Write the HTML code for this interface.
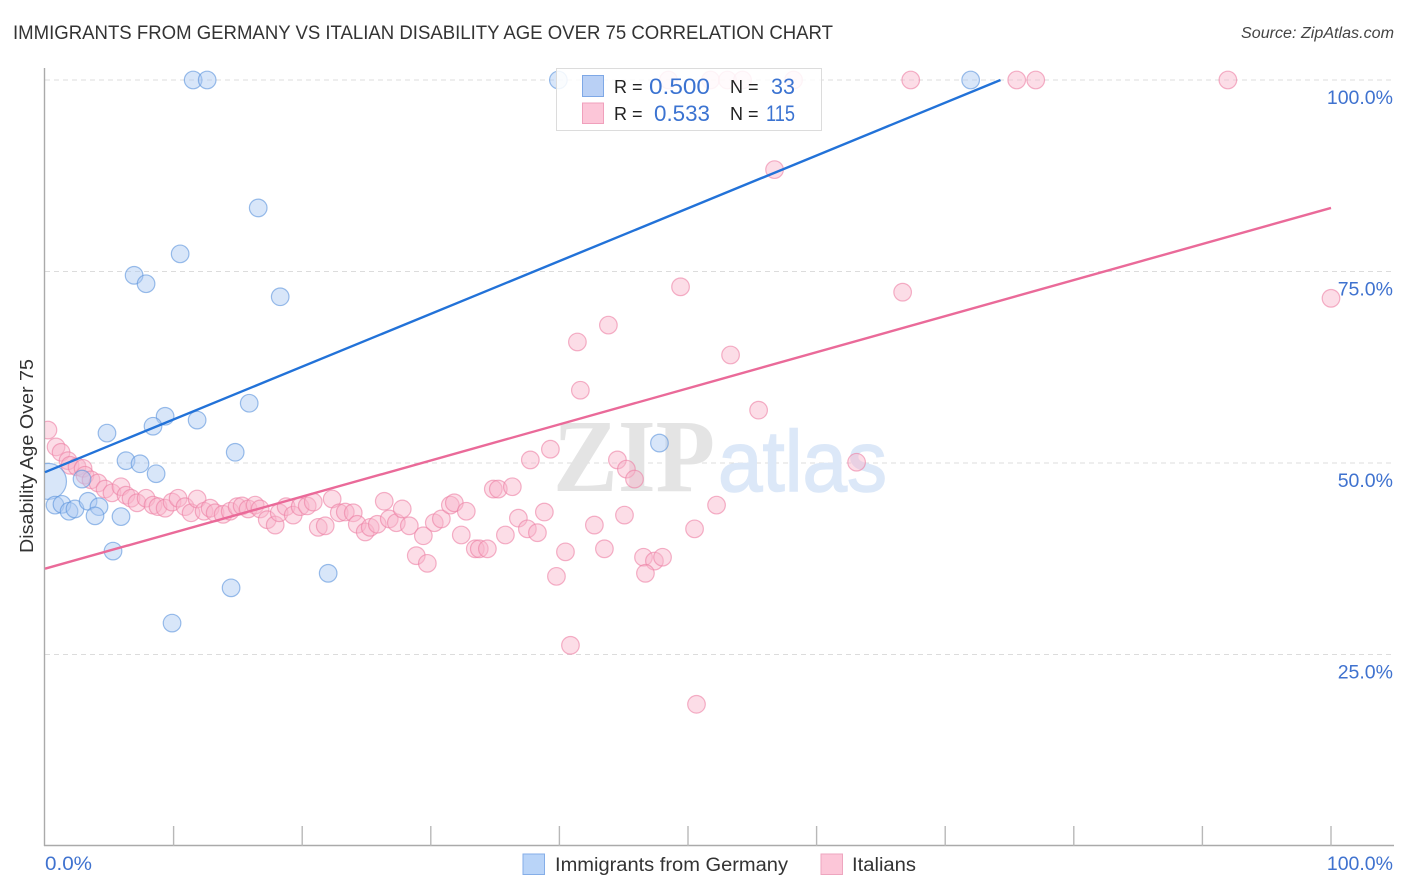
<!DOCTYPE html>
<html>
<head>
<meta charset="utf-8">
<title>Immigrants from Germany vs Italian Disability Age Over 75 Correlation Chart</title>
<style>
html,body{margin:0;padding:0;background:#fff;width:1406px;height:892px;overflow:hidden}
svg{display:block;font-family:"Liberation Sans",sans-serif}
</style>
</head>
<body>
<svg id="chart" width="1406" height="892" viewBox="0 0 1406 892">
  <defs>
    <clipPath id="plot-clip"><rect x="45" y="60" width="1360" height="786"/></clipPath>
  </defs>
  <text x="13" y="39" font-size="19" fill="#333" textLength="820" lengthAdjust="spacingAndGlyphs">IMMIGRANTS FROM GERMANY VS ITALIAN DISABILITY AGE OVER 75 CORRELATION CHART</text>
  <text x="1394" y="38" font-size="15.5" font-style="italic" fill="#444" text-anchor="end" textLength="153" lengthAdjust="spacingAndGlyphs">Source: ZipAtlas.com</text>
  <g id="grid"></g>
  <g>
    <text x="553" y="491" font-size="104" font-weight="bold" font-family="'Liberation Serif',serif" fill="#e4e4e4" textLength="162" lengthAdjust="spacingAndGlyphs">ZIP</text>
    <text x="718" y="491" font-size="86" fill="#dce8f8" stroke="#dce8f8" stroke-width="1.5" textLength="169" lengthAdjust="spacingAndGlyphs">atlas</text>
  </g>
  <g id="axes"></g>
  <g id="pink-points" clip-path="url(#plot-clip)"></g>
  <g id="blue-points" clip-path="url(#plot-clip)"></g>
  <g id="trend-lines"></g>
  <g id="tick-labels"></g>
  <text transform="translate(33,456) rotate(-90)" font-size="18" fill="#333" text-anchor="middle" textLength="194" lengthAdjust="spacingAndGlyphs">Disability Age Over 75</text>

  <g>
    <rect x="556.5" y="68.5" width="265" height="62" fill="#fff" fill-opacity="0.86" stroke="#dcdcdc" stroke-width="1"/>
    <rect x="582.5" y="75.5" width="21" height="21" fill="#b9d0f5" stroke="#7ea8e6"/>
    <rect x="582.5" y="103" width="21" height="20.5" fill="#fcc6d8" stroke="#f0a0bc"/>
    <text x="614" y="93" font-size="18" fill="#222">R =</text>
    <text x="649" y="94" font-size="22" fill="#3b73d1" textLength="61" lengthAdjust="spacingAndGlyphs">0.500</text>
    <text x="730" y="93" font-size="18" fill="#222">N =</text>
    <text x="771" y="94" font-size="22" fill="#3b73d1" textLength="24" lengthAdjust="spacingAndGlyphs">33</text>
    <text x="614" y="120" font-size="18" fill="#222">R =</text>
    <text x="654" y="121" font-size="22" fill="#3b73d1" textLength="56" lengthAdjust="spacingAndGlyphs">0.533</text>
    <text x="730" y="120" font-size="18" fill="#222">N =</text>
    <text x="766" y="121" font-size="22" fill="#3b73d1" textLength="29" lengthAdjust="spacingAndGlyphs">115</text>
  </g>

  <g>
    <g>
      <rect x="523" y="854" width="21.5" height="20.5" fill="#b9d4f8" stroke="#85aee8"/>
      <text x="555" y="871" font-size="19" fill="#333" textLength="233" lengthAdjust="spacingAndGlyphs">Immigrants from Germany</text>
    </g>
    <g>
      <rect x="821" y="854" width="21.5" height="20.5" fill="#fcc6d8" stroke="#eea6bf"/>
      <text x="852" y="871" font-size="19" fill="#333" textLength="64" lengthAdjust="spacingAndGlyphs">Italians</text>
    </g>
  </g>
</svg>
<script>
var yTicks = [25, 50, 75, 100];
var yTickLabels = ['25.0%', '50.0%', '75.0%', '100.0%'];
var xTicks = [0, 10, 20, 30, 40, 50, 60, 70, 80, 90, 100];
var xEndLabels = ['0.0%', '100.0%'];

var germanyX = [11.52,12.61,39.92,71.98,16.58,10.51,6.93,7.86,18.29,15.88,9.34,11.83,8.40,4.82,14.79,6.30,7.39,8.64,47.78,2.88,0.27,0.78,1.32,1.87,2.33,3.35,4.2,3.89,5.91,5.29,22.02,14.47,9.88];
var germanyY = [100,100,100,100,83.3,77.3,74.5,73.4,71.7,57.8,56.1,55.6,54.8,53.9,51.4,50.3,49.9,48.6,52.6,47.9,47.6,44.5,44.6,43.7,44,45,44.3,43.1,43,38.5,35.6,33.7,29.1];
var germanyWeight = [1,1,1,1,1,1,1,1,1,1,1,1,1,1,1,1,1,1,1,1,2,1,1,1,1,1,1,1,1,1,1,1,1];

var italiansX = [0.23,0.86,1.25,1.79,1.95,2.49,2.96,3.11,3.58,4.12,4.67,5.21,5.91,6.30,6.69,7.16,7.86,8.40,8.79,9.34,9.88,10.35,10.89,11.36,11.83,12.37,12.84,13.23,13.85,14.40,14.94,15.33,15.80,16.34,16.73,17.28,17.90,18.21,18.75,19.30,19.84,20.39,20.86,21.25,21.79,22.33,22.88,23.35,23.97,24.28,24.90,25.29,25.84,26.38,26.77,27.32,27.78,28.33,29.42,28.87,29.73,30.27,30.82,31.52,31.83,32.76,32.37,33.46,33.77,34.40,34.86,35.25,36.34,35.80,36.81,37.51,38.29,38.83,37.74,39.30,40.47,39.77,40.86,42.72,43.50,44.51,45.21,45.84,45.06,46.54,47.39,48.02,46.69,50.51,52.22,50.66,41.40,43.81,49.42,53.31,41.63,55.49,63.11,66.69,100,56.73,48.48,51.75,53.07,54.24,58.21,67.32,75.56,77.04,91.98];
var italiansY = [54.3,52.1,51.4,50.3,49.7,49.5,49.3,48.4,47.8,47.4,46.6,46.1,46.9,45.8,45.4,44.8,45.4,44.5,44.3,44.1,44.9,45.4,44.3,43.5,45.3,43.7,44.1,43.5,43.3,43.7,44.3,44.4,44.0,44.5,44.0,42.6,41.9,43.5,44.3,43.2,44.3,44.4,44.9,41.6,41.8,45.3,43.5,43.6,43.5,42.0,41.0,41.6,42.0,45.0,42.7,42.2,44.0,41.8,40.5,37.9,36.9,42.2,42.7,44.5,44.8,43.7,40.6,38.8,38.8,38.8,46.6,46.6,46.9,40.6,42.8,41.4,40.9,43.6,50.4,51.8,38.4,35.2,26.2,41.9,38.8,50.4,49.2,47.9,43.2,37.7,37.2,37.7,35.6,41.4,44.5,18.5,65.8,68.0,73.0,64.1,59.5,56.9,50.1,72.3,71.5,88.3,100,100,100,100,100,100,100,100,100];

var germanyTrendX = [0, 74.3];
var germanyTrendY = [48.8, 100];
var italiansTrendX = [0, 100];
var italiansTrendY = [36.2, 83.3];

var NS = 'http://www.w3.org/2000/svg';
function xScale(v) { return 45 + 12.86 * v; }
function yScale(v) { return 846 - 7.66 * v; }
function make(tag, attrs) {
  var el = document.createElementNS(NS, tag);
  for (var k in attrs) el.setAttribute(k, attrs[k]);
  return el;
}

var gridG = document.getElementById('grid');
yTicks.forEach(function (t) {
  var line = make('line', {x1: 45, x2: 1394, y1: yScale(t), y2: yScale(t), stroke: '#dcdcdc', 'stroke-width': 1, 'stroke-dasharray': '5 4'});
  
  
  gridG.appendChild(line);
});

var axesG = document.getElementById('axes');
var yAxis = make('line', {x1: 44.5, x2: 44.5, y1: 68, y2: 846, stroke: '#aaaaaa', 'stroke-width': 1.4});


axesG.appendChild(yAxis);
var xAxis = make('line', {x1: 44, x2: 1394, y1: 845.5, y2: 845.5, stroke: '#aaaaaa', 'stroke-width': 1.4});


axesG.appendChild(xAxis);
xTicks.forEach(function (t) {
  if (t === 0) return;
  var tick = make('line', {x1: xScale(t), x2: xScale(t), y1: 826, y2: 846, stroke: '#b8b8b8', 'stroke-width': 1.4});
  
  
  axesG.appendChild(tick);
});

function drawPoints(groupId, xs, ys, fill, stroke, weights) {
  var g = document.getElementById(groupId);
  xs.forEach(function (x, i) {
    var r = weights && weights[i] === 2 ? 18 : 8.8;
    var c = make('circle', {cx: xScale(x), cy: yScale(ys[i]), r: r, fill: fill, 'fill-opacity': 0.46, stroke: stroke, 'stroke-opacity': 0.6, 'stroke-width': 1.2});
    
    
    g.appendChild(c);
  });
}
drawPoints('pink-points', italiansX, italiansY, '#f9b4cb', '#ec7ea4');
drawPoints('blue-points', germanyX, germanyY, '#a9c8f2', '#5a93dc', germanyWeight);

var trendG = document.getElementById('trend-lines');
var germanyLine = make('line', {x1: xScale(germanyTrendX[0]), y1: yScale(germanyTrendY[0]), x2: xScale(germanyTrendX[1]), y2: yScale(germanyTrendY[1]), stroke: '#2272d8', 'stroke-width': 2.4});


trendG.appendChild(germanyLine);
var italiansLine = make('line', {x1: xScale(italiansTrendX[0]), y1: yScale(italiansTrendY[0]), x2: xScale(italiansTrendX[1]), y2: yScale(italiansTrendY[1]), stroke: '#ea6a99', 'stroke-width': 2.4});


trendG.appendChild(italiansLine);

var labelsG = document.getElementById('tick-labels');
yTicks.forEach(function (t, i) {
  var lab = make('text', {x: 1393, y: yScale(t) + 24, 'font-size': 19.5, fill: '#3f72cf', 'text-anchor': 'end'});
  lab.textContent = yTickLabels[i];
  
  
  labelsG.appendChild(lab);
});
var xLabelStart = make('text', {x: 45, y: 870, 'font-size': 19.5, fill: '#3f72cf', textLength: 47, lengthAdjust: 'spacingAndGlyphs'});
xLabelStart.textContent = xEndLabels[0];


labelsG.appendChild(xLabelStart);
var xLabelEnd = make('text', {x: 1393, y: 870, 'font-size': 19.5, fill: '#3f72cf', 'text-anchor': 'end'});
xLabelEnd.textContent = xEndLabels[1];


labelsG.appendChild(xLabelEnd);
</script>
</body>
</html>
